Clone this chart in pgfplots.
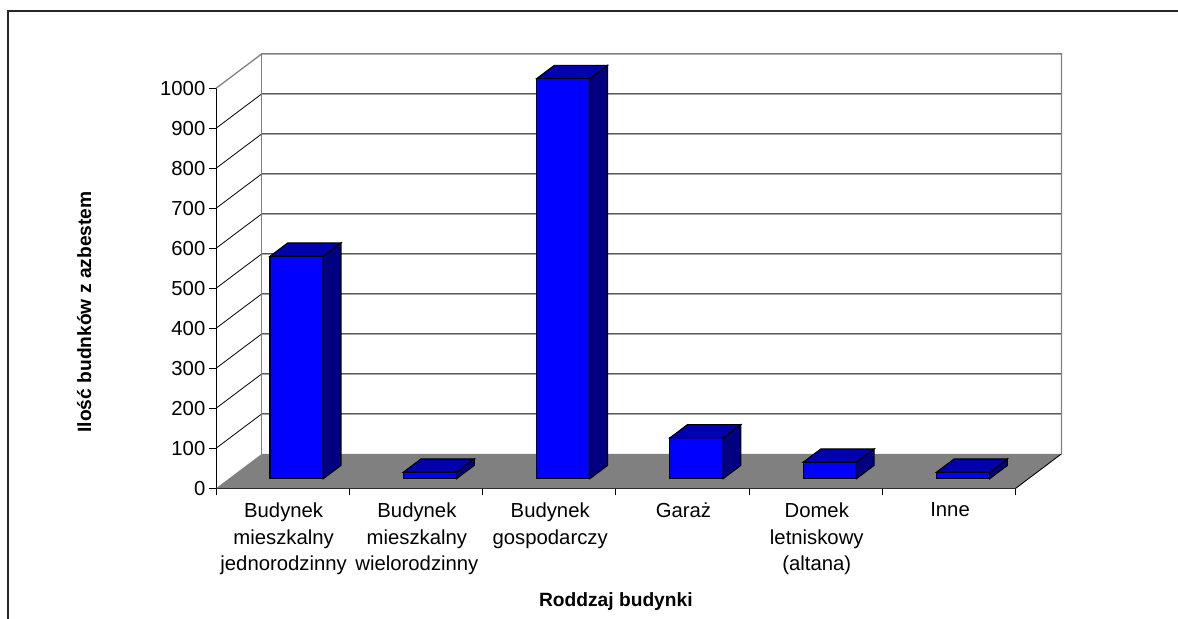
\documentclass[border=0pt]{standalone}
\usepackage{fontspec}
\setmainfont{Liberation Sans}
\usepackage{pgfplots}
\usepackage{pgfplotstable}
\pgfplotsset{compat=1.18}

\definecolor{barfront}{HTML}{0000FF}
\definecolor{bartop}{HTML}{0000AE}
\definecolor{barside}{HTML}{000080}
\definecolor{floorgray}{HTML}{808080}

% value of each bar
\pgfplotstableread{
pos  value
0.605 556
1.605 16
2.605 1000
3.605 102
4.605 41
5.605 16
}\bardata

\def\wallx{0.343}  % depth of the walls, axis units
\def\wally{86}
\def\basey{24}     % bars stand this far above the front edge of the floor
\def\depx{0.1328}  % depth of a bar
\def\depy{33.3}

\begin{document}
\begin{tikzpicture}
\useasboundingbox (0,0) rectangle (1178bp,619bp);
\draw[line width=1.1bp, black!85] (8bp,0bp) -- (8bp,608bp) -- (1178bp,608bp);
\begin{axis}[
    at={(216bp,130.7bp)},
    anchor=south west,
    scale only axis,
    width=799.7bp,
    height=400bp,
    clip=false,
    xmin=0, xmax=6,
    ymin=0, ymax=1000,
    axis x line=bottom,
    axis y line=left,
    axis line style={-, black, line width=0.9bp},
    ytick={0,100,...,1000},
    xtick={0.5,1.5,2.5,3.5,4.5,5.5},
    xticklabels={
        {Budynek\\mieszkalny\\jednorodzinny},
        {Budynek\\mieszkalny\\wielorodzinny},
        {Budynek\\gospodarczy},
        {Garaż},
        {Domek\\letniskowy\\(altana)},
        {Inne}},
    minor xtick={0,1,2,3,4,5,6},
    tick align=outside,
    major x tick style={draw=none},
    minor x tick style={black, line width=0.8bp},
    y tick style={black, line width=0.8bp},
    major tick length=7bp,
    minor tick length=7bp,
    /pgf/number format/assume math mode=true,
    /pgf/number format/1000 sep={},
    xticklabel style={align=center, anchor=north, font=\fontsize{20.3bp}{26.6bp}\selectfont, inner sep=0pt, yshift=-7.5bp, xshift=1bp},
    yticklabel style={font=\fontsize{20.3bp}{24bp}\selectfont, inner sep=0pt, xshift=-3.5bp},
    xlabel={Roddzaj budynki},
    ylabel={Ilość budnków z azbestem},
    xlabel style={at={(axis description cs:0.5,-0.283)}, anchor=center, font=\fontsize{19.2bp}{22bp}\selectfont\bfseries},
    ylabel style={at={(axis description cs:-0.165,0.441)}, anchor=center, rotate=0, font=\fontsize{19.2bp}{22bp}\selectfont\bfseries},
]
% floor
\addplot[fill=floorgray, draw=none] coordinates {(0,0) (6,0) (6.343,86) (0.343,86)} --cycle;
\addplot[black, line width=0.9bp] coordinates {(6,0) (6.343,86)};

% grid lines on the side wall and the back wall
\pgfplotsinvokeforeach{100,200,...,900}{
    \pgfmathsetmacro\gy{#1+\wally}
    \addplot[black, line width=0.8bp] coordinates {(0,#1) (\wallx,\gy) (6.343,\gy)};
}
% wall edges
\addplot[floorgray, line width=1.3bp] coordinates {(0,1000) (0.343,1086) (6.343,1086) (6.343,86)};
\addplot[floorgray, line width=1.3bp] coordinates {(0.343,86) (0.343,1086)};

% bars: front from the table, top and side from the same values
\addplot[ybar, bar width=53.3bp, fill=barfront, draw=black, line width=1.1bp, yshift=9.6bp] table[x=pos, y=value] {\bardata};
\pgfplotsinvokeforeach{0,1,2,3,4,5}{
    \pgfplotstablegetelem{#1}{value}\of\bardata
    \pgfmathsetmacro\xa{#1+0.405}
    \pgfmathsetmacro\xb{#1+0.805}
    \pgfmathsetmacro\xc{\xa+\depx}
    \pgfmathsetmacro\xd{\xb+\depx}
    \pgfmathsetmacro\ya{\basey}
    \pgfmathsetmacro\yb{\basey+\depy}
    \pgfmathsetmacro\yc{\basey+\pgfplotsretval}
    \pgfmathsetmacro\yd{\yc+\depy}
    \addplot[fill=barside, draw=black, line width=1.1bp] coordinates {(\xb,\ya) (\xd,\yb) (\xd,\yd) (\xb,\yc)} --cycle;
    \addplot[fill=bartop, draw=black, line width=1.1bp] coordinates {(\xa,\yc) (\xb,\yc) (\xd,\yd) (\xc,\yd)} --cycle;
}
\end{axis}
\end{tikzpicture}
\end{document}
